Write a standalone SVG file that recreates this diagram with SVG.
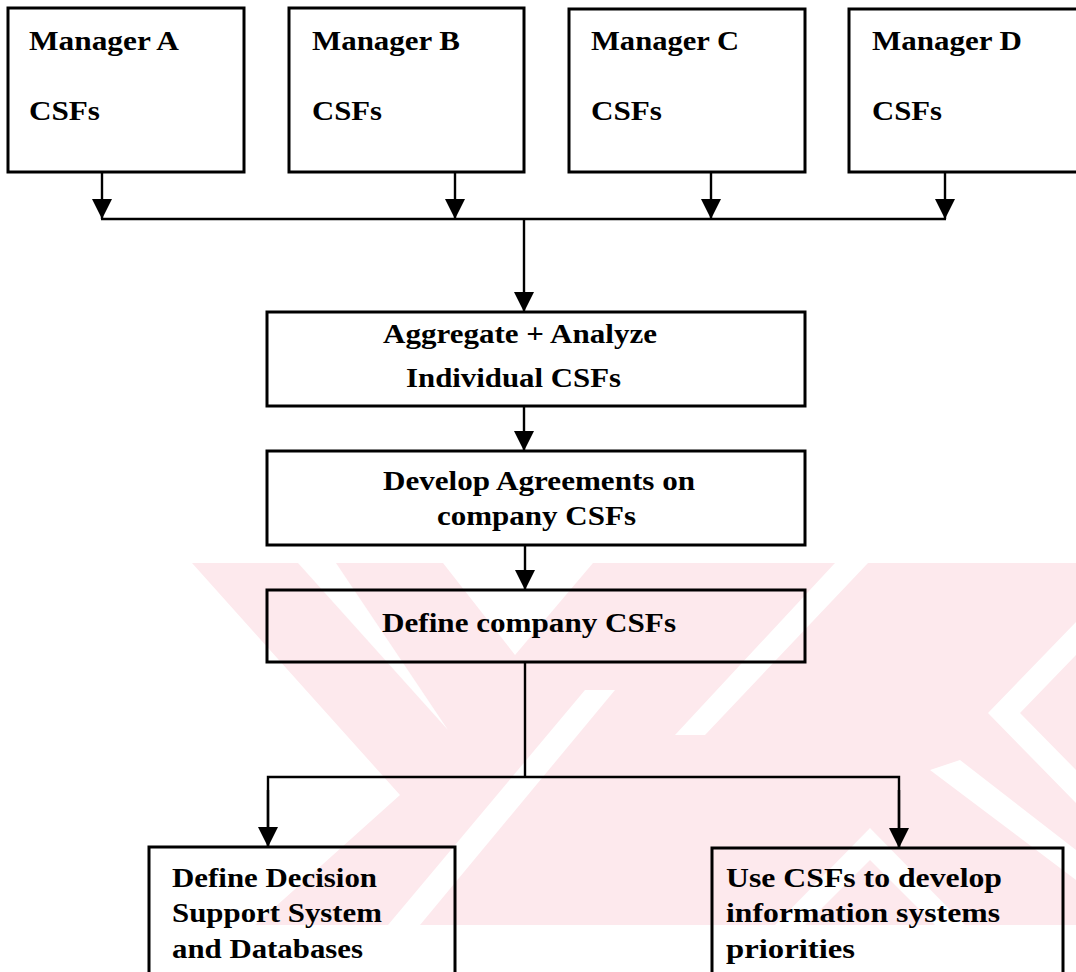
<svg xmlns="http://www.w3.org/2000/svg" width="1076" height="972" viewBox="0 0 1076 972">
<style>
.box{fill:none;stroke:#000;stroke-width:3}
.ln{fill:none;stroke:#000;stroke-width:2.4}
.t{font-family:"Liberation Serif","Times New Roman",serif;font-weight:bold;font-size:27px;fill:#000}
.wm{fill:#fde9ed}
.wg{fill:#fff}
</style>
<defs>
<marker id="ah" markerUnits="userSpaceOnUse" markerWidth="22" markerHeight="22" refX="20" refY="10" orient="auto">
<path d="M0,0 L20,10 L0,20 z" fill="#000"/>
</marker>
</defs>
<rect width="1076" height="972" fill="#fff"/>
<g id="watermark">
<polygon class="wm" points="192,563 1076,563 1076,925 255,925 400,795"/>
<polygon class="wg" points="298,563 336,563 448,730"/>
<polygon class="wg" points="443,563 593,563 515,655"/>
<polygon class="wg" points="835,563 868,563 705,735 675,735"/>
<polygon class="wg" points="585,690 615,690 420,925 388,925"/>
<polygon class="wg" points="988,713 1076,622 1076,655 1020,713 1076,770 1076,803"/>
<polygon class="wg" points="930,770 960,760 1076,850 1076,880"/>
<polygon class="wg" points="870,828 965,925 935,925 870,860 805,925 775,925"/>
</g>
<g id="connectors">
<line class="ln" x1="102" y1="172" x2="102" y2="219" marker-end="url(#ah)"/>
<line class="ln" x1="455" y1="172" x2="455" y2="219" marker-end="url(#ah)"/>
<line class="ln" x1="711" y1="172" x2="711" y2="219" marker-end="url(#ah)"/>
<line class="ln" x1="945" y1="172" x2="945" y2="219" marker-end="url(#ah)"/>
<line class="ln" x1="101" y1="219" x2="946" y2="219"/>
<line class="ln" x1="524" y1="219" x2="524" y2="312" marker-end="url(#ah)"/>
<line class="ln" x1="524" y1="406" x2="524" y2="451" marker-end="url(#ah)"/>
<line class="ln" x1="525" y1="545" x2="525" y2="590" marker-end="url(#ah)"/>
<polyline class="ln" points="525,662 525,777"/>
<polyline class="ln" points="268,847 268,777 899,777 899,848"/>
<line class="ln" x1="268" y1="790" x2="268" y2="847" marker-end="url(#ah)"/>
<line class="ln" x1="899" y1="790" x2="899" y2="848" marker-end="url(#ah)"/>
</g>
<g id="managerA">
<rect class="box" x="8" y="8" width="236" height="164"/>
<text class="t" x="29" y="50" textLength="150" lengthAdjust="spacingAndGlyphs">Manager A</text>
<text class="t" x="29" y="120" textLength="71" lengthAdjust="spacingAndGlyphs">CSFs</text>
</g>
<g id="managerB">
<rect class="box" x="289" y="8" width="235" height="164"/>
<text class="t" x="312" y="50" textLength="148" lengthAdjust="spacingAndGlyphs">Manager B</text>
<text class="t" x="312" y="120" textLength="70" lengthAdjust="spacingAndGlyphs">CSFs</text>
</g>
<g id="managerC">
<rect class="box" x="569" y="9" width="236" height="163"/>
<text class="t" x="591" y="50" textLength="148" lengthAdjust="spacingAndGlyphs">Manager C</text>
<text class="t" x="591" y="120" textLength="71" lengthAdjust="spacingAndGlyphs">CSFs</text>
</g>
<g id="managerD">
<rect class="box" x="849" y="9" width="240" height="163"/>
<text class="t" x="872" y="50" textLength="150" lengthAdjust="spacingAndGlyphs">Manager D</text>
<text class="t" x="872" y="120" textLength="70" lengthAdjust="spacingAndGlyphs">CSFs</text>
</g>
<g id="aggregate">
<rect class="box" x="267" y="312" width="538" height="94"/>
<text class="t" x="383" y="343" textLength="274" lengthAdjust="spacingAndGlyphs">Aggregate + Analyze</text>
<text class="t" x="406" y="387" textLength="215" lengthAdjust="spacingAndGlyphs">Individual CSFs</text>
</g>
<g id="develop">
<rect class="box" x="267" y="451" width="538" height="94"/>
<text class="t" x="383" y="490" textLength="312" lengthAdjust="spacingAndGlyphs">Develop Agreements on</text>
<text class="t" x="437" y="525" textLength="199" lengthAdjust="spacingAndGlyphs">company CSFs</text>
</g>
<g id="define">
<rect class="box" x="267" y="590" width="538" height="72"/>
<text class="t" x="382" y="632" textLength="294" lengthAdjust="spacingAndGlyphs">Define company CSFs</text>
</g>
<g id="dss">
<rect class="box" x="149" y="847" width="306" height="140"/>
<text class="t" x="172" y="887" textLength="205" lengthAdjust="spacingAndGlyphs">Define Decision</text>
<text class="t" x="172" y="922" textLength="210" lengthAdjust="spacingAndGlyphs">Support System</text>
<text class="t" x="172" y="958" textLength="191" lengthAdjust="spacingAndGlyphs">and Databases</text>
</g>
<g id="isp">
<rect class="box" x="712" y="848" width="351" height="140"/>
<text class="t" x="726" y="887" textLength="276" lengthAdjust="spacingAndGlyphs">Use CSFs to develop</text>
<text class="t" x="726" y="922" textLength="274" lengthAdjust="spacingAndGlyphs">information systems</text>
<text class="t" x="726" y="958" textLength="129" lengthAdjust="spacingAndGlyphs">priorities</text>
</g>
</svg>
